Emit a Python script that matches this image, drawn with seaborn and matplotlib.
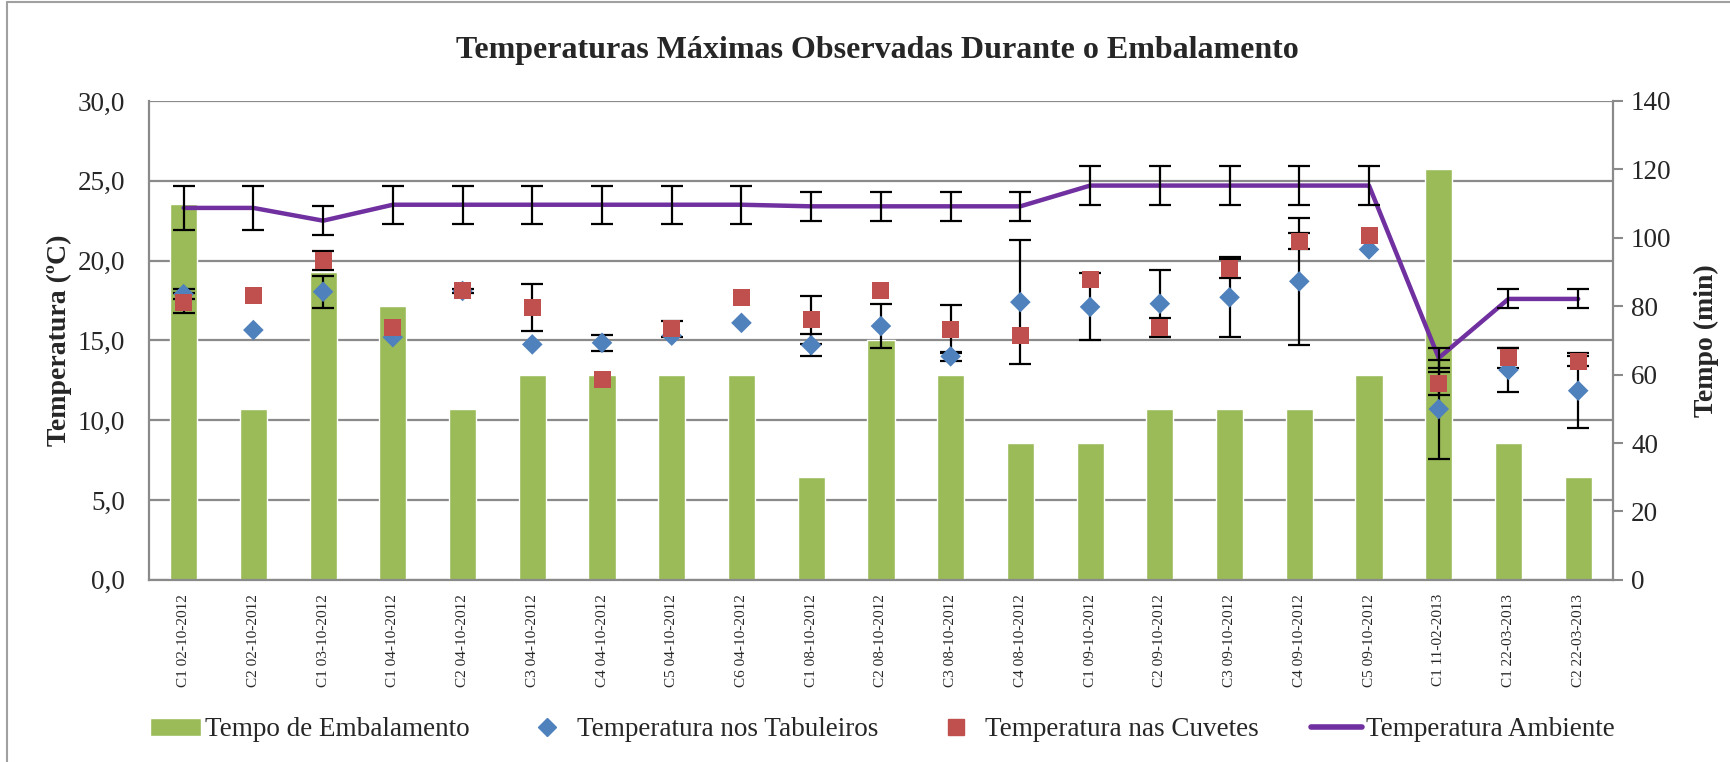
import numpy as np
import pandas as pd
import matplotlib
matplotlib.use('Agg')
import matplotlib.pyplot as plt
import seaborn as sns
from matplotlib.patches import Patch
from matplotlib.lines import Line2D

# data
categorias = ["C1 02-10-2012", "C2 02-10-2012", "C1 03-10-2012", "C1 04-10-2012",
              "C2 04-10-2012", "C3 04-10-2012", "C4 04-10-2012", "C5 04-10-2012",
              "C6 04-10-2012", "C1 08-10-2012", "C2 08-10-2012", "C3 08-10-2012",
              "C4 08-10-2012", "C1 09-10-2012", "C2 09-10-2012", "C3 09-10-2012",
              "C4 09-10-2012", "C5 09-10-2012", "C1 11-02-2013", "C1 22-03-2013",
              "C2 22-03-2013"]
tempo = [110, 50, 90, 80, 50, 60, 60, 60, 60, 30, 70, 60, 40, 40, 50, 50, 50, 60, 120, 40, 30]
ambiente = [23.3, 23.3, 22.5, 23.5, 23.5, 23.5, 23.5, 23.5, 23.5, 23.4, 23.4, 23.4, 23.4,
            24.7, 24.7, 24.7, 24.7, 24.7, 13.9, 17.6, 17.6]
ambiente_err = [1.4, 1.4, 0.9, 1.2, 1.2, 1.2, 1.2, 1.2, 1.2, 0.9, 0.9, 0.9, 0.9,
                1.2, 1.2, 1.2, 1.2, 1.2, 0.6, 0.6, 0.6]
tabuleiros = [17.9, 15.65, 18.05, 15.2, 18.1, 14.75, 14.85, 15.3, 16.1, 14.7, 15.9, 14.0,
              17.4, 17.1, 17.3, 17.7, 18.7, 20.7, 10.7, 13.15, 11.85]
tabuleiros_err = [0.3, 0, 1.0, 0, 0, 0, 0.5, 0, 0, 0.7, 1.4, 0.3, 3.9, 2.1, 2.1, 2.5,
                  4.0, 0, 3.1, 1.35, 2.35]
cuvetes = [17.35, 17.8, 20.0, 15.8, 18.1, 17.06, 12.56, 15.73, 17.7, 16.3, 18.1, 15.7,
           15.3, 18.8, 15.8, 19.5, 21.2, 21.6, 12.3, 13.9, 13.7]
cuvetes_err = [0.65, 0, 0.6, 0, 0.1, 1.5, 0, 0.5, 0, 1.5, 0, 1.5, 0, 0, 0.6, 0.6, 0.5,
               0, 0.7, 0.6, 0.3]
temp_ticks = [0, 5, 10, 15, 20, 25, 30]
tempo_ticks = [0, 20, 40, 60, 80, 100, 120, 140]

verde = '#9BBB59'
azul = '#4F81BD'
vermelho = '#C0504D'
roxo = '#7030A0'
cinza = '#8a8a8a'

sns.set_theme(style='white')
plt.rcParams['font.family'] = ['Liberation Serif', 'DejaVu Serif']

df = pd.DataFrame({'cat': categorias, 'tempo': tempo})
x = np.arange(len(categorias))

fig = plt.figure(figsize=(17.3, 7.62), dpi=100)
ax = fig.add_axes([0.086, 0.239, 0.8464, 0.6285])
ax2 = ax.twinx()
ax.set_zorder(ax2.get_zorder() + 1)
ax.patch.set_visible(False)

# gridlines behind the bars (follow the left axis ticks)
for v in temp_ticks:
    ax2.axhline(v * tempo_ticks[-1] / temp_ticks[-1], color=cinza, lw=1.6, zorder=0.5)

sns.barplot(data=df, x='cat', y='tempo', order=categorias, ax=ax2, color=verde,
            width=0.39, saturation=1, zorder=1)

# temperature series
ax.plot(x, ambiente, color=roxo, lw=3.2, zorder=2)
ax.errorbar(x, ambiente, yerr=ambiente_err, fmt='none', ecolor='black',
            elinewidth=1.6, capsize=8, capthick=1.6, zorder=3)

te = np.array(tabuleiros_err)
m = te > 0
ax.errorbar(x[m], np.array(tabuleiros)[m], yerr=te[m], fmt='none', ecolor='black',
            elinewidth=1.6, capsize=8, capthick=1.6, zorder=3)
ce = np.array(cuvetes_err)
m = ce > 0
ax.errorbar(x[m], np.array(cuvetes)[m], yerr=ce[m], fmt='none', ecolor='black',
            elinewidth=1.6, capsize=8, capthick=1.6, zorder=3)

sns.scatterplot(x=x, y=tabuleiros, marker='D', s=110, color=azul, edgecolor='none',
                ax=ax, zorder=4)
sns.scatterplot(x=x, y=cuvetes, marker='s', s=150, color=vermelho, edgecolor='none',
                ax=ax, zorder=5)

# axes
ax.set_xlim(-0.5, len(categorias) - 0.5)
ax.set_ylim(temp_ticks[0], temp_ticks[-1])
ax2.set_ylim(tempo_ticks[0], tempo_ticks[-1])
ax.set_yticks(temp_ticks)
ax.set_yticklabels([f"{v:.1f}".replace('.', ',') for v in temp_ticks], fontsize=19.5)
ax2.set_yticks(tempo_ticks)
ax2.set_yticklabels([str(v) for v in tempo_ticks], fontsize=19.5)
ax.set_xticks(x)
ax.set_xticklabels(categorias, rotation=90, fontsize=11)
ax.tick_params(axis='x', length=0, pad=10)
ax.tick_params(axis='y', length=0, pad=17)
ax2.tick_params(axis='y', length=7, width=1.5, color=cinza, pad=6, direction='out')
ax.set_xlabel('')
ax2.set_xlabel('')

for s in ['top', 'right']:
    ax.spines[s].set_visible(False)
for s in ['left', 'bottom']:
    ax.spines[s].set_color(cinza)
    ax.spines[s].set_linewidth(1.6)
for s in ['top', 'left', 'bottom']:
    ax2.spines[s].set_visible(False)
ax2.spines['right'].set_color(cinza)
ax2.spines['right'].set_linewidth(1.6)

ax.set_ylabel('Temperatura (ºC)', fontsize=20, fontweight='bold', labelpad=4)
ax2.set_ylabel('Tempo (min)', fontsize=20, fontweight='bold', labelpad=16)

fig.text(0.507, 0.934, 'Temperaturas Máximas Observadas Durante o Embalamento',
         fontsize=23, fontweight='bold', ha='center', va='center')

handles = [Patch(facecolor=verde),
           Line2D([], [], marker='D', color=azul, linestyle='none', markersize=9),
           Line2D([], [], marker='s', color=vermelho, linestyle='none', markersize=11),
           Line2D([], [], color=roxo, lw=4)]
labels = ['Tempo de Embalamento', 'Temperatura nos Tabuleiros',
          'Temperatura nas Cuvetes', 'Temperatura Ambiente']
fig.legend(handles, labels, loc='center', bbox_to_anchor=(0.51, 0.042), ncol=4,
           frameon=False, fontsize=19.5, handlelength=1.9, handletextpad=0.15,
           columnspacing=1.9)

# chart area border (left and top visible in the reference)
fig.add_artist(Line2D([0.004, 0.004], [0, 0.997], transform=fig.transFigure,
                      color='#a0a0a0', lw=1.5))
fig.add_artist(Line2D([0.004, 1.0], [0.997, 0.997], transform=fig.transFigure,
                      color='#a0a0a0', lw=1.5))

fig.savefig('out.png', dpi=100)
